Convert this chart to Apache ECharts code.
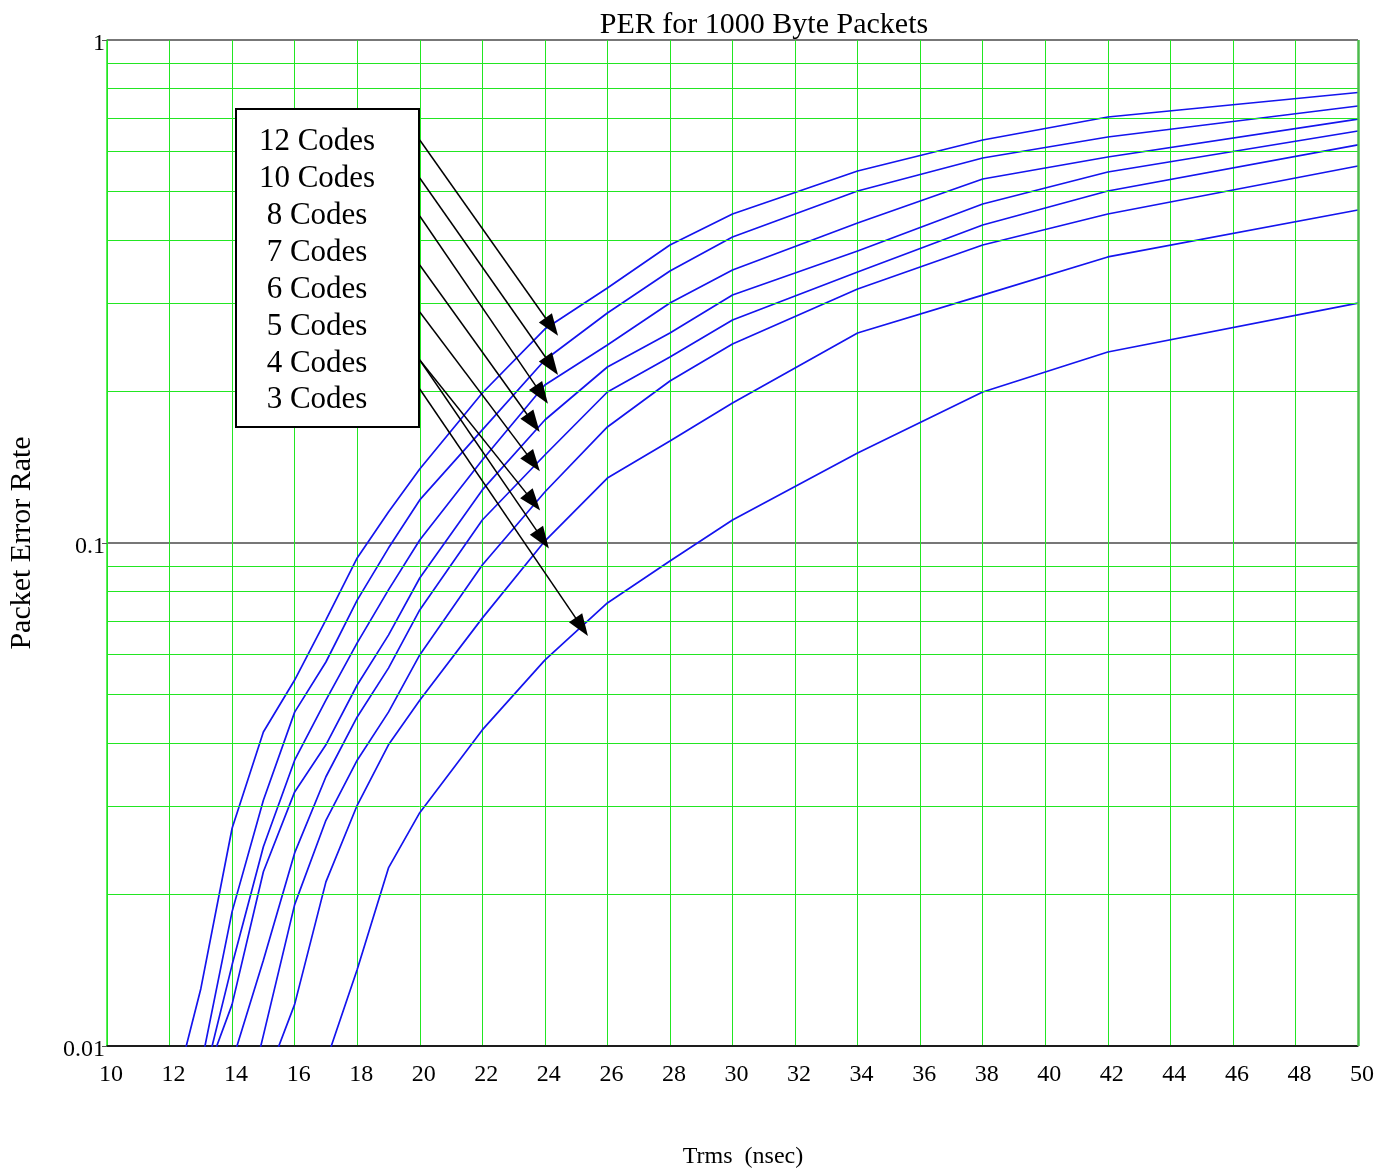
<!DOCTYPE html>
<html>
<head>
<meta charset="utf-8">
<title>PER for 1000 Byte Packets</title>
<script src="https://cdn.jsdelivr.net/npm/echarts@6/dist/echarts.min.js"></script>
<style>
    html, body { margin: 0; padding: 0; background: #fff; }
    #per-chart { width: 1384px; height: 1169px; }
</style>
</head>
<body>
<div id="per-chart"></div>
<script>
// Trms (nsec) sample points shared by every curve
var trms = [12, 13, 14, 15, 16, 17, 18, 19, 20, 22, 24, 26, 28, 30, 34, 38, 42, 50];

// packet error rate per number of codes (null = no point)
var codes12 = [0.0074, 0.0130, 0.0271, 0.0421, 0.0534, 0.0703, 0.0934, 0.1152, 0.1403, 0.1987, 0.2663, 0.3214, 0.3912, 0.4509, 0.549, 0.6327, 0.7029, 0.7863];
var codes10 = [null, 0.0091, 0.0185, 0.0308, 0.0461, 0.0580, 0.0770, 0.0977, 0.1218, 0.1678, 0.2311, 0.2866, 0.3474, 0.4058, 0.5010, 0.5827, 0.6415, 0.7393];
var codes8 = [null, 0.0081, 0.0145, 0.0249, 0.0370, 0.0487, 0.0633, 0.0807, 0.1014, 0.1462, 0.2061, 0.2475, 0.2999, 0.3489, 0.4327, 0.5293, 0.5854, 0.6964];
var codes7 = [null, 0.0082, 0.0121, 0.0222, 0.0320, 0.0397, 0.0522, 0.0656, 0.0852, 0.1275, 0.1756, 0.2238, 0.2615, 0.3111, 0.3806, 0.4721, 0.5465, 0.6594];
var codes6 = [null, null, 0.0093, 0.0148, 0.0242, 0.0343, 0.0451, 0.0564, 0.0736, 0.1111, 0.1496, 0.1996, 0.2343, 0.2775, 0.3457, 0.4288, 0.5010, 0.6185];
var codes5 = [null, null, 0.0058, 0.0105, 0.0191, 0.0281, 0.0370, 0.0461, 0.0599, 0.0904, 0.1263, 0.1701, 0.2099, 0.2487, 0.3199, 0.3912, 0.4509, 0.5617];
var codes4 = [null, null, null, 0.0083, 0.0121, 0.0212, 0.0301, 0.0397, 0.0487, 0.0709, 0.1009, 0.1346, 0.1595, 0.1898, 0.2615, 0.3111, 0.3704, 0.4592];
var codes3 = [null, null, null, null, null, 0.0093, 0.0142, 0.0226, 0.0291, 0.0425, 0.0585, 0.0760, 0.0921, 0.1111, 0.1510, 0.1996, 0.2397, 0.2999];

var codeLabels = ['12 Codes', '10 Codes', '8 Codes', '7 Codes', '6 Codes', '5 Codes', '4 Codes', '3 Codes'];
var codeSeries = [codes12, codes10, codes8, codes7, codes6, codes5, codes4, codes3];

// minor log grid lines
var minorTicks = [0.02, 0.03, 0.04, 0.05, 0.06, 0.07, 0.08, 0.09, 0.2, 0.3, 0.4, 0.5, 0.6, 0.7, 0.8, 0.9];

// arrows from the label box to each curve: [trms, per] start and tip
var arrowStart = [[20, 0.6327], [20, 0.5316], [20, 0.4467], [20, 0.3570], [20, 0.2879], [20, 0.2311], [20, 0.2311], [20, 0.2024]];
var arrowTip = [[24.22, 0.2691], [24.22, 0.2249], [23.90, 0.1972], [23.63, 0.1732], [23.63, 0.1445], [23.63, 0.1207], [23.93, 0.1017], [25.18, 0.0681]];

var FONT = '"Liberation Serif", "Times New Roman", serif';
var GREEN = '#22e622';

function toPairs(xs, ys) {
    var out = [];
    for (var i = 0; i < xs.length; i++) {
        if (ys[i] != null) out.push([xs[i], ys[i]]);
    }
    return out;
}

var series = [];
for (var i = 0; i < codeSeries.length; i++) {
    series.push({
        name: codeLabels[i],
        type: 'line',
        data: toPairs(trms, codeSeries[i]),
        symbol: 'none',
        z: 4,
        lineStyle: { color: '#1414ee', width: 1.7 }
    });
}

// grid lines between the decades
series.push({
    name: 'minor',
    type: 'line',
    data: [],
    z: 1,
    silent: true,
    markLine: {
        silent: true,
        symbol: 'none',
        animation: false,
        label: { show: false },
        lineStyle: { color: GREEN, width: 1, type: 'solid' },
        data: minorTicks.map(function (v) { return { yAxis: v }; })
            .concat([{ xAxis: 50, lineStyle: { color: '#4cbb4c', width: 2.5 } }])
    }
});

var arrowLines = [];
for (var j = 0; j < arrowStart.length; j++) {
    arrowLines.push([{ coord: arrowStart[j] }, { coord: arrowTip[j] }]);
}
series.push({
    name: 'arrows',
    type: 'line',
    data: [],
    z: 6,
    silent: true,
    markLine: {
        silent: true,
        animation: false,
        symbol: ['none', 'triangle'],
        symbolSize: [16, 22],
        label: { show: false },
        lineStyle: { color: '#000', width: 1.5, type: 'solid' },
        itemStyle: { color: '#000' },
        data: arrowLines
    }
});

var graphics = [{
    type: 'rect',
    z: 10,
    shape: { x: 236, y: 109, width: 183, height: 318 },
    style: { fill: '#fff', stroke: '#000', lineWidth: 2 }
}];
for (var k = 0; k < codeLabels.length; k++) {
    graphics.push({
        type: 'text',
        z: 11,
        x: 317,
        y: 142 + k * 36.9,
        style: {
            text: codeLabels[k],
            fill: '#000',
            font: '31px ' + FONT,
            textAlign: 'center',
            textVerticalAlign: 'middle'
        }
    });
}

var option = {
    animation: false,
    backgroundColor: '#fff',
    title: {
        text: 'PER for 1000 Byte Packets',
        left: 759,
        top: 5,
        textAlign: 'center',
        textStyle: { fontFamily: FONT, fontSize: 30, fontWeight: 'normal', color: '#000' }
    },
    grid: { left: 107, right: 26, top: 40, bottom: 123, containLabel: false, outerBoundsMode: 'none' },
    xAxis: {
        type: 'value',
        min: 10,
        max: 50,
        interval: 2,
        name: 'Trms  (nsec)',
        nameLocation: 'middle',
        nameGap: 99,
        nameTextStyle: { fontFamily: FONT, fontSize: 24, color: '#000', padding: [0, 0, 0, 21] },
        axisLine: { show: true, onZero: false, lineStyle: { color: '#000', width: 1.5 } },
        axisTick: { show: false },
        axisLabel: { fontFamily: FONT, fontSize: 24, color: '#000', margin: 17, padding: [0, 0, 0, 8] },
        splitLine: { show: true, lineStyle: { color: GREEN, width: 1 } }
    },
    yAxis: {
        type: 'log',
        logBase: 10,
        min: 0.01,
        max: 1,
        name: 'Packet Error Rate',
        nameLocation: 'middle',
        nameGap: 70,
        nameTextStyle: { fontFamily: FONT, fontSize: 30, color: '#000' },
        axisLine: { show: true, onZero: false, lineStyle: { color: GREEN, width: 1.5 } },
        axisTick: { show: true, length: 5, lineStyle: { color: '#555' } },
        axisLabel: {
            fontFamily: FONT, fontSize: 24, color: '#000', margin: 2,
            verticalAlign: 'top', lineHeight: 8,
            formatter: function (v) { return String(v); }
        },
        splitLine: { show: true, lineStyle: { color: '#4a4a4a', width: 1.5 } }
    },
    graphic: graphics,
    series: series
};

var perChart = echarts.init(document.getElementById('per-chart'));
perChart.setOption(option);
</script>
</body>
</html>
